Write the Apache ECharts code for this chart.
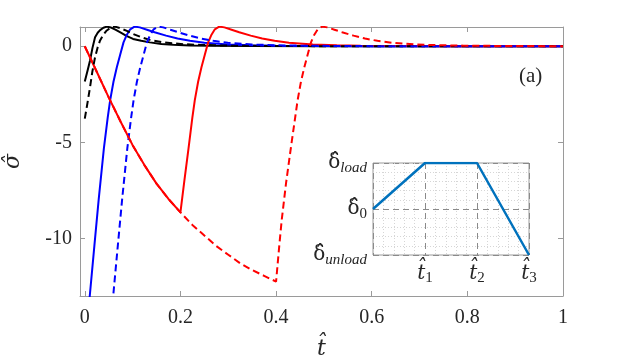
<!DOCTYPE html>
<html>
<head>
<meta charset="utf-8">
<script src="https://cdn.jsdelivr.net/npm/echarts@6/dist/echarts.min.js"></script>
<style>
html, body { margin: 0; padding: 0; background: #fff; }
#main { width: 623px; height: 364px; }
</style>
</head>
<body>
<div id="main"></div>
<script>
// tick positions of the main axes
var xTicks = [0, 0.2, 0.4, 0.6, 0.8, 1];
var yTicks = [-10, -5, 0];

// main curves, [t, sigma]
var blackSolid = [[0, -1.83], [0.006, -1.25], [0.011, -0.74], [0.016, -0.1], [0.0215, 0.47], [0.027, 0.7], [0.032, 0.84],
    [0.039, 0.96], [0.046, 1.02], [0.055, 0.97], [0.064, 0.86], [0.0735, 0.73], [0.087, 0.54], [0.101, 0.38],
    [0.118, 0.28], [0.136, 0.2], [0.16, 0.12], [0.185, 0.07], [0.22, 0.04], [0.26, 0.02], [0.35, 0.01], [0.5, 0], [1, 0]];
var blackDashed = [[0, -3.77], [0.006, -2.9], [0.011, -2.13], [0.016, -1.3], [0.0215, -0.57], [0.027, -0.05], [0.032, 0.3],
    [0.039, 0.6], [0.046, 0.82], [0.054, 0.96], [0.063, 1.02], [0.075, 0.93], [0.088, 0.8], [0.101, 0.64],
    [0.118, 0.47], [0.136, 0.33], [0.16, 0.22], [0.185, 0.15], [0.21, 0.1], [0.24, 0.07], [0.3, 0.03], [0.4, 0.01], [0.55, 0], [1, 0]];
var blueSolid = [[0.0067, -14], [0.0104, -13], [0.02, -10.4], [0.029, -8.0], [0.04, -5.3], [0.048, -3.7], [0.053, -2.82],
    [0.06, -1.85], [0.067, -1.1], [0.074, -0.45], [0.081, 0.2], [0.088, 0.6], [0.095, 0.88], [0.104, 1.02],
    [0.115, 0.98], [0.13, 0.86], [0.146, 0.73], [0.17, 0.55], [0.194, 0.4], [0.22, 0.28], [0.25, 0.18],
    [0.3, 0.09], [0.35, 0.05], [0.4, 0.03], [0.5, 0.01], [0.6, 0], [1, 0]];
var blueDashed = [[0.0557, -14], [0.0594, -13], [0.069, -10.4], [0.078, -8.0], [0.089, -5.3], [0.097, -3.7], [0.102, -2.82],
    [0.109, -1.85], [0.116, -1.1], [0.123, -0.45], [0.13, 0.2], [0.137, 0.6], [0.144, 0.88], [0.153, 1.02],
    [0.164, 0.98], [0.179, 0.86], [0.195, 0.73], [0.219, 0.55], [0.243, 0.4], [0.269, 0.28], [0.299, 0.18],
    [0.349, 0.09], [0.399, 0.05], [0.449, 0.03], [0.549, 0.01], [0.65, 0], [1, 0]];
var redSolid = [[0, 0], [0.025, -1.33], [0.05, -2.66], [0.075, -3.93], [0.1, -5.15], [0.125, -6.2], [0.15, -7.15],
    [0.175, -7.95], [0.2, -8.65], [0.208, -7.05], [0.217, -5.3], [0.225, -3.7], [0.23, -2.82], [0.237, -1.85],
    [0.244, -1.1], [0.251, -0.45], [0.258, 0.2], [0.265, 0.6], [0.272, 0.88], [0.281, 1.02], [0.292, 0.98],
    [0.307, 0.86], [0.323, 0.73], [0.347, 0.55], [0.371, 0.4], [0.397, 0.28], [0.427, 0.18], [0.477, 0.09],
    [0.527, 0.05], [0.577, 0.03], [0.677, 0.01], [0.8, 0], [1, 0]];
var redDashed = [[0, 0], [0.025, -1.33], [0.05, -2.66], [0.075, -3.93], [0.1, -5.15], [0.125, -6.2], [0.15, -7.15],
    [0.175, -7.95], [0.2, -8.65], [0.225, -9.3], [0.25, -9.85], [0.275, -10.4], [0.3, -10.85], [0.325, -11.3],
    [0.35, -11.65], [0.375, -11.95], [0.4, -12.25], [0.407, -10.3], [0.412, -9.0], [0.421, -7.1], [0.432, -5.1],
    [0.44, -3.7], [0.445, -2.82], [0.452, -1.85], [0.459, -1.1], [0.466, -0.45], [0.473, 0.2], [0.48, 0.6],
    [0.487, 0.88], [0.496, 1.02], [0.507, 0.98], [0.522, 0.86], [0.538, 0.73], [0.562, 0.55], [0.586, 0.4],
    [0.612, 0.28], [0.642, 0.18], [0.692, 0.09], [0.742, 0.05], [0.792, 0.03], [0.892, 0.01], [1, 0]];

// inset: loading history
var insetPath = [[0, 0], [1, 1], [2, 1], [3, -1]];
var insetXLabels = {1: '1', 2: '2', 3: '3'};
var insetYLabels = {'-1': 'unload', '0': '0', '1': 'load'};

var serif = "'Liberation Serif', 'DejaVu Serif', serif";
var hatFont = "'DejaVu Serif', serif";
var boxColor = '#9a9a9a';
var textColor = '#262626';

var myChart = echarts.init(document.getElementById('main'));

function curve(data, color, dashed, z) {
    return {
        type: 'line',
        xAxisIndex: 0,
        yAxisIndex: 0,
        data: data,
        showSymbol: false,
        symbol: 'none',
        z: z,
        lineStyle: {
            color: color,
            width: 2,
            type: dashed ? [7, 4] : 'solid'
        }
    };
}

var option = {
    animation: false,
    grid: [
        {left: 80, right: 60, top: 27, bottom: 68, outerBoundsMode: 'none', containLabel: false},
        {left: 373, top: 163, width: 156, height: 92, show: true, backgroundColor: '#fff',
            borderColor: boxColor, borderWidth: 1, outerBoundsMode: 'none', containLabel: false}
    ],
    xAxis: [
        {
            type: 'value', gridIndex: 0, min: -0.01, max: 1,
            name: 't\u0302', nameLocation: 'middle', nameGap: 42,
            nameTextStyle: {fontFamily: hatFont, fontSize: 22, fontStyle: 'italic', color: textColor},
            axisLine: {show: true, onZero: false, lineStyle: {color: boxColor}},
            axisTick: {show: true, inside: true, length: 5, customValues: xTicks, lineStyle: {color: boxColor}},
            axisLabel: {customValues: xTicks, fontFamily: serif, fontSize: 20, color: textColor, margin: 12,
                formatter: function (v) { return String(+v.toFixed(1)); }},
            splitLine: {show: false}
        },
        {
            type: 'value', gridIndex: 0, min: -0.01, max: 1, position: 'top',
            axisLine: {show: true, onZero: false, lineStyle: {color: boxColor}},
            axisTick: {show: true, inside: true, length: 5, customValues: xTicks, lineStyle: {color: boxColor}},
            axisLabel: {show: false},
            splitLine: {show: false}
        },
        {
            type: 'value', gridIndex: 1, min: 0, max: 3, interval: 1, z: 2,
            axisLine: {show: false},
            axisTick: {show: false},
            axisLabel: {
                fontFamily: serif, color: textColor, margin: 6,
                formatter: function (v) {
                    return insetXLabels[v] ? '{t|t\u0302}{s|' + insetXLabels[v] + '}' : '';
                },
                rich: {
                    t: {fontFamily: hatFont, fontSize: 20, fontStyle: 'italic', color: textColor},
                    s: {fontFamily: serif, fontSize: 15, color: textColor, padding: [10, 0, 0, 0]}
                }
            },
            splitLine: {show: true, lineStyle: {color: '#8a8a8a', type: [6, 4], width: 1}},
            minorTick: {show: false, splitNumber: 5},
            minorSplitLine: {show: true, lineStyle: {color: '#d6d6d6', type: [1, 2], width: 1}}
        }
    ],
    yAxis: [
        {
            type: 'value', gridIndex: 0, min: -13, max: 1,
            name: '\u03c3\u0302', nameLocation: 'middle', nameGap: 56, nameRotate: 90,
            nameTextStyle: {fontFamily: hatFont, fontSize: 22, fontStyle: 'italic', color: textColor},
            axisLine: {show: true, onZero: false, lineStyle: {color: boxColor}},
            axisTick: {show: true, inside: true, length: 5, customValues: yTicks, lineStyle: {color: boxColor}},
            axisLabel: {customValues: yTicks, fontFamily: serif, fontSize: 20, color: textColor, margin: 8},
            splitLine: {show: false}
        },
        {
            type: 'value', gridIndex: 0, min: -13, max: 1, position: 'right',
            axisLine: {show: true, onZero: false, lineStyle: {color: boxColor}},
            axisTick: {show: true, inside: true, length: 5, customValues: yTicks, lineStyle: {color: boxColor}},
            axisLabel: {show: false},
            splitLine: {show: false}
        },
        {
            type: 'value', gridIndex: 1, min: -1, max: 1, interval: 1, z: 2,
            axisLine: {show: false},
            axisTick: {show: false},
            axisLabel: {
                margin: 6,
                formatter: function (v) {
                    var sub = insetYLabels[String(v)];
                    return '{d|\u03b4\u0302}' + (sub === '0' ? '{n|0}' : '{s|' + sub + '}');
                },
                rich: {
                    d: {fontFamily: hatFont, fontSize: 20, color: textColor},
                    s: {fontFamily: serif, fontSize: 15, fontStyle: 'italic', color: textColor, padding: [10, 0, 0, 0]},
                    n: {fontFamily: serif, fontSize: 15, color: textColor, padding: [10, 0, 0, 0]}
                }
            },
            splitLine: {show: true, lineStyle: {color: '#8a8a8a', type: [6, 4], width: 1}},
            minorTick: {show: false, splitNumber: 5},
            minorSplitLine: {show: true, lineStyle: {color: '#d6d6d6', type: [1, 2], width: 1}}
        }
    ],
    graphic: [
        {type: 'text', left: 519, top: 66, style: {text: '(a)', font: '21px ' + serif, fill: textColor}}
    ],
    series: [
        curve(blackSolid, '#000000', false, 2),
        curve(blueSolid, '#0000ff', false, 2),
        curve(redSolid, '#ff0000', false, 2),
        curve(blackDashed, '#000000', true, 2),
        curve(blueDashed, '#0000ff', true, 2),
        curve(redDashed, '#ff0000', true, 2),
        {
            type: 'line', xAxisIndex: 2, yAxisIndex: 2, data: insetPath,
            showSymbol: false, symbol: 'none', z: 5,
            lineStyle: {color: '#0072BD', width: 2.5}
        }
    ]
};

myChart.setOption(option);
window.addEventListener('resize', function () {
    myChart.resize();
});
</script>
</body>
</html>
